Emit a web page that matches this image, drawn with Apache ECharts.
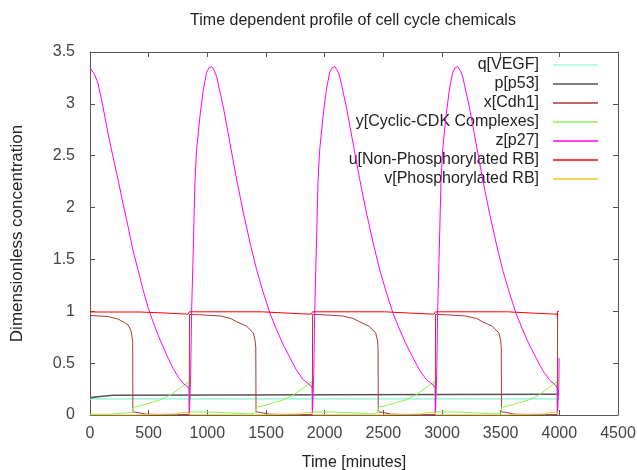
<!DOCTYPE html>
<html>
<head>
<meta charset="utf-8">
<script src="https://cdn.jsdelivr.net/npm/echarts@6/dist/echarts.min.js"></script>
<style>html,body{margin:0;padding:0;background:#fff;}#c{width:637px;height:470px;}</style>
</head>
<body>
<div id="c"></div>
<script>
// ---- data (time in minutes, dimensionless concentration) ----
var seriesNames = ['q[VEGF]', 'p[p53]', 'x[Cdh1]', 'y[Cyclic-CDK Complexes]', 'z[p27]', 'u[Non-Phosphorylated RB]', 'v[Phosphorylated RB]'];
var xTicks = [0, 500, 1000, 1500, 2000, 2500, 3000, 3500, 4000, 4500];
var yTicks = [0, 0.5, 1, 1.5, 2, 2.5, 3, 3.5];

var qVEGF = [[0,0.155],[4000,0.155]];

var pP53 = [[0,0.165],[40,0.172],[85,0.178],[86,0.186],[199,0.19],[200,0.2],[4000,0.2]];

var xCdh1 = [
  [0,0.96],[150,0.95],[240,0.925],[295,0.89],[324,0.87],[347,0.82],[358,0.76],[364,0.70],[365,0.03],
  [400,0.025],[405,0.01],[480,0.008],[600,0.005],[700,0.003],[846,0.004],
  [848,0.97],[950,0.965],[1108,0.955],[1200,0.93],[1250,0.90],[1336,0.855],[1392,0.79],[1406,0.725],[1413,0.65],[1415,0.03],
  [1450,0.025],[1455,0.01],[1530,0.008],[1650,0.005],[1750,0.003],[1895,0.004],
  [1897,0.97],[2000,0.965],[2150,0.955],[2245,0.93],[2295,0.90],[2380,0.855],[2435,0.79],[2449,0.725],[2455,0.65],[2457,0.03],
  [2492,0.025],[2497,0.01],[2570,0.008],[2690,0.005],[2790,0.003],[2943,0.004],
  [2945,0.97],[3050,0.965],[3200,0.955],[3295,0.93],[3345,0.90],[3430,0.855],[3485,0.79],[3499,0.725],[3505,0.65],[3507,0.03],
  [3542,0.025],[3547,0.01],[3620,0.008],[3740,0.005],[3840,0.003],[3983,0.004],
  [3985,0.98],[3987,0.98]
];

var yCDK = [
  [0,0.007],[170,0.007],[171,0.026],[364,0.026],[366,0.074],[454,0.097],[597,0.145],[682,0.19],[767,0.258],[838,0.32],[846,0.33],
  [848,0.03],[985,0.03],[986,0.022],[1165,0.022],[1166,0.01],[1364,0.01],[1365,0.022],[1413,0.022],
  [1415,0.074],[1502,0.097],[1645,0.145],[1730,0.19],[1815,0.258],[1886,0.32],[1895,0.33],
  [1897,0.03],[2034,0.03],[2035,0.022],[2212,0.022],[2213,0.01],[2405,0.01],[2406,0.022],[2455,0.022],
  [2457,0.074],[2545,0.097],[2688,0.145],[2773,0.19],[2858,0.258],[2932,0.32],[2943,0.33],
  [2945,0.03],[3082,0.03],[3083,0.022],[3260,0.022],[3261,0.01],[3455,0.01],[3456,0.022],[3505,0.022],
  [3507,0.074],[3595,0.097],[3738,0.145],[3823,0.19],[3905,0.258],[3975,0.32],[3983,0.33],
  [3985,0.02],[3987,0.02]
];

var zP27 = [
  [0,3.35],[11,3.34],[40,3.28],[68,3.20],[111,2.97],[153,2.72],[196,2.49],[239,2.27],[281,2.04],[324,1.82],[366,1.59],
  [409,1.40],[452,1.21],[494,1.04],[537,0.90],[580,0.77],[622,0.66],[665,0.55],[707,0.45],[750,0.37],[793,0.305],[835,0.27],[846,0.25],
  [847,0.0],[855,0.0],[858,0.4],[866,1.0],[880,1.59],[894,2.24],[908,2.55],[937,2.88],[965,3.13],[993,3.30],[1015,3.35],[1037,3.36],
  [1060,3.32],[1080,3.26],[1136,2.97],[1193,2.62],[1250,2.27],[1307,1.95],[1364,1.66],[1420,1.40],[1477,1.18],[1534,0.98],
  [1591,0.82],[1648,0.675],[1705,0.55],[1761,0.43],[1818,0.34],[1875,0.29],[1895,0.26],
  [1896,0.0],[1904,0.0],[1907,0.4],[1915,1.0],[1929,1.6],[1943,2.24],[1957,2.55],[1986,2.88],[2014,3.13],[2042,3.30],[2064,3.35],[2086,3.36],
  [2109,3.32],[2129,3.26],[2185,2.97],[2242,2.62],[2299,2.27],[2356,1.95],[2413,1.66],[2469,1.40],[2526,1.18],[2583,0.98],
  [2640,0.82],[2697,0.675],[2754,0.55],[2810,0.43],[2867,0.34],[2924,0.29],[2943,0.26],
  [2944,0.0],[2952,0.0],[2955,0.4],[2963,1.0],[2977,1.6],[2991,2.24],[3005,2.55],[3034,2.88],[3062,3.13],[3090,3.30],[3112,3.35],[3134,3.36],
  [3157,3.32],[3177,3.26],[3233,2.97],[3290,2.62],[3347,2.27],[3404,1.95],[3461,1.66],[3517,1.40],[3574,1.18],[3631,0.98],
  [3688,0.82],[3745,0.675],[3802,0.55],[3858,0.43],[3915,0.34],[3965,0.29],[3983,0.26],
  [3984,0.0],[3993,0.0],[3996,0.3],[3998,0.55]
];

var uRB = [
  [0,0.993],[425,0.993],[426,0.982],[665,0.982],[666,0.972],[835,0.972],[840,0.962],[846,0.962],
  [848,0.995],[1463,0.995],[1464,0.982],[1690,0.982],[1691,0.972],[1885,0.972],[1889,0.962],[1895,0.962],
  [1897,0.995],[2510,0.995],[2511,0.982],[2738,0.982],[2739,0.972],[2932,0.972],[2937,0.962],[2943,0.962],
  [2945,0.995],[3558,0.995],[3559,0.982],[3785,0.982],[3786,0.972],[3980,0.972],
  [3984,0.952],[3985,1.0],[3997,1.0]
];

var vRB = [
  [0,0.0],[365,0.0],[380,0.004],[600,0.006],[740,0.01],[760,0.02],[846,0.025],
  [848,0.002],[1415,0.001],[1430,0.004],[1650,0.006],[1790,0.01],[1810,0.02],[1895,0.025],
  [1897,0.002],[2457,0.001],[2472,0.004],[2692,0.006],[2832,0.01],[2852,0.02],[2943,0.025],
  [2945,0.002],[3507,0.001],[3522,0.004],[3742,0.006],[3882,0.01],[3902,0.02],[3983,0.03],
  [3985,0.002]
];

var seriesData = [qVEGF, pP53, xCdh1, yCDK, zP27, uRB, vRB];
var seriesColors = ['#a8f5e2', '#555555', '#a83a32', '#8cf050', '#ff00ff', '#ff0000', '#ffc428'];
var seriesWidths = [1.6, 1.6, 1, 1, 1, 1, 1];

var FONT = 'Liberation Sans';
var chart = echarts.init(document.getElementById('c'), null, {renderer: 'canvas'});

var series = seriesNames.map(function (n, i) {
  return {
    name: n, type: 'line', data: seriesData[i], showSymbol: false, symbol: 'none',
    xAxisIndex: 0, yAxisIndex: 0, animation: false, z: 2 + i,
    lineStyle: {color: seriesColors[i], width: seriesWidths[i]},
    itemStyle: {color: seriesColors[i]}
  };
});

var legends = seriesNames.map(function (n, i) {
  return {
    data: [n], right: 39, top: 57 + i * 19, padding: 0, align: 'right',
    icon: 'rect', itemWidth: 45, itemHeight: 1.5, selectedMode: false,
    textStyle: {fontFamily: FONT, fontSize: 16, color: '#222', padding: [0, 9, 0, 0]}
  };
});

function plain(v) { return String(v); }

var axisCommon = {
  type: 'value', splitLine: {show: false},
  axisLine: {show: true, onZero: false, lineStyle: {color: '#555', width: 1}},
  axisTick: {show: true, inside: true, length: 5, lineStyle: {color: '#555'}}
};

chart.setOption({
  backgroundColor: '#fff',
  animation: false,
  title: {
    text: 'Time dependent profile of cell cycle chemicals',
    left: 353, top: 13, padding: 0, textAlign: 'center',
    textStyle: {fontFamily: FONT, fontSize: 16, fontWeight: 'normal', color: '#222'}
  },
  legend: legends,
  grid: {left: 90, right: 19, top: 52, bottom: 55, containLabel: false, outerBoundsMode: 'none'},
  xAxis: [
    Object.assign({}, axisCommon, {
      position: 'bottom', min: xTicks[0], max: xTicks[xTicks.length - 1], interval: xTicks[1] - xTicks[0],
      name: 'Time [minutes]', nameLocation: 'middle', nameGap: 40,
      nameTextStyle: {fontFamily: FONT, fontSize: 16, color: '#222'},
      axisLabel: {fontFamily: FONT, fontSize: 16, color: '#444', margin: 11, formatter: plain}
    }),
    Object.assign({}, axisCommon, {
      position: 'top', min: xTicks[0], max: xTicks[xTicks.length - 1], interval: xTicks[1] - xTicks[0],
      axisLabel: {show: false}
    })
  ],
  yAxis: [
    Object.assign({}, axisCommon, {
      position: 'left', min: yTicks[0], max: yTicks[yTicks.length - 1], interval: yTicks[1] - yTicks[0],
      name: 'Dimensionless concentration', nameLocation: 'middle', nameGap: 64,
      nameTextStyle: {fontFamily: FONT, fontSize: 17, color: '#222'},
      axisLabel: {fontFamily: FONT, fontSize: 16, color: '#444', margin: 15, formatter: plain}
    }),
    Object.assign({}, axisCommon, {
      position: 'right', min: yTicks[0], max: yTicks[yTicks.length - 1], interval: yTicks[1] - yTicks[0],
      axisLabel: {show: false}
    })
  ],
  series: series
});
</script>
</body>
</html>
